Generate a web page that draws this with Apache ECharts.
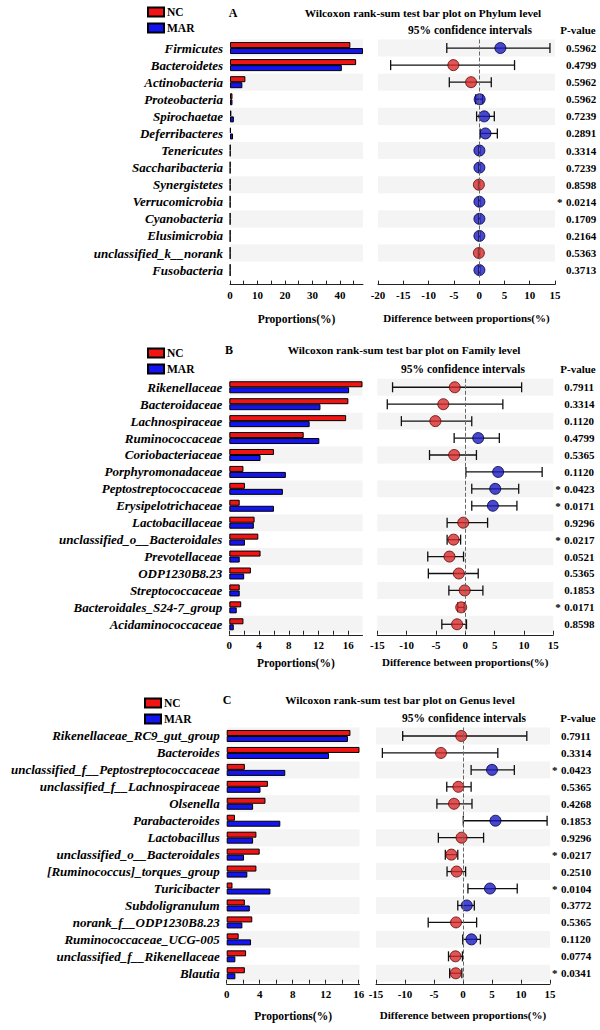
<!DOCTYPE html>
<html>
<head>
<meta charset="utf-8">
<script src="https://cdn.jsdelivr.net/npm/echarts@6/dist/echarts.min.js"></script>
<style>
  html, body { margin: 0; padding: 0; background: #fff; }
  #chart { width: 600px; height: 1030px; }
</style>
</head>
<body>
<div id="chart"></div>
<script>
// ---- data: Phylum level (A) ----
const phylumNames = ['Firmicutes', 'Bacteroidetes', 'Actinobacteria', 'Proteobacteria', 'Spirochaetae', 'Deferribacteres', 'Tenericutes', 'Saccharibacteria', 'Synergistetes', 'Verrucomicrobia', 'Cyanobacteria', 'Elusimicrobia', 'unclassified_k__norank', 'Fusobacteria'];
const phylumNC = [43.8, 45.9, 5.6, 0.9, 0.5, 0.3, 0.15, 0.1, 0.1, 0.1, 0.1, 0.1, 0.1, 0.1];
const phylumMAR = [48.4, 40.7, 4.5, 0.9, 1.4, 1.1, 0.15, 0.1, 0.1, 0.1, 0.1, 0.1, 0.1, 0.1];
const phylumDiff = [4.2, -5.1, -1.6, 0.1, 1.0, 1.25, 0.05, 0.05, -0.05, 0.05, 0.05, 0.05, -0.05, 0.05];
const phylumLow = [-6.4, -17.5, -5.9, -0.7, -0.5, 0.2, -0.1, -0.1, -0.15, -0.1, -0.1, -0.1, -0.15, -0.1];
const phylumHigh = [14.0, 7.0, 2.4, 0.7, 3.0, 3.6, 0.15, 0.15, 0.1, 0.15, 0.15, 0.15, 0.1, 0.15];
const phylumP = [0.5962, 0.4799, 0.5962, 0.5962, 0.7239, 0.2891, 0.3314, 0.7239, 0.8598, 0.0214, 0.1709, 0.2164, 0.5363, 0.3713];

// ---- data: Family level (B) ----
const familyNames = ['Rikenellaceae', 'Bacteroidaceae', 'Lachnospiraceae', 'Ruminococcaceae', 'Coriobacteriaceae', 'Porphyromonadaceae', 'Peptostreptococcaceae', 'Erysipelotrichaceae', 'Lactobacillaceae', 'unclassified_o__Bacteroidales', 'Prevotellaceae', 'ODP1230B8.23', 'Streptococcaceae', 'Bacteroidales_S24-7_group', 'Acidaminococcaceae'];
const familyNC = [17.9, 16.0, 15.7, 10.0, 6.0, 1.9, 2.1, 1.4, 3.4, 3.9, 4.2, 2.9, 1.4, 1.6, 1.9];
const familyMAR = [16.1, 12.25, 10.8, 12.1, 4.2, 7.6, 7.2, 6.0, 3.3, 2.1, 1.4, 2.0, 1.4, 1.0, 0.6];
const familyDiff = [-1.8, -3.75, -5.1, 2.2, -1.9, 5.6, 5.1, 4.7, -0.35, -2.0, -2.7, -1.1, -0.1, -0.7, -1.4];
const familyLow = [-12.4, -13.3, -10.9, -1.9, -6.1, 0.1, 1.1, 1.1, -3.1, -3.1, -6.4, -6.3, -2.8, -1.3, -4.0];
const familyHigh = [9.6, 6.4, 1.1, 5.8, 1.9, 13.1, 9.1, 8.8, 3.8, -0.8, -0.3, 2.2, 3.0, -0.2, 0.2];
const familyP = [0.7911, 0.3314, 0.1120, 0.4799, 0.5365, 0.1120, 0.0423, 0.0171, 0.9296, 0.0217, 0.0521, 0.5365, 0.1853, 0.0171, 0.8598];

// ---- data: Genus level (C) ----
const genusNames = ['Rikenellaceae_RC9_gut_group', 'Bacteroides', 'unclassified_f__Peptostreptococcaceae', 'unclassified_f__Lachnospiraceae', 'Olsenella', 'Parabacteroides', 'Lactobacillus', 'unclassified_o__Bacteroidales', '[Ruminococcus]_torques_group', 'Turicibacter', 'Subdoligranulum', 'norank_f__ODP1230B8.23', 'Ruminococcaceae_UCG-005', 'unclassified_f__Rikenellaceae', 'Blautia'];
const genusNC = [15.0, 16.1, 2.2, 5.0, 4.7, 1.0, 3.6, 4.0, 3.6, 0.7, 2.2, 3.1, 1.45, 2.35, 2.2];
const genusMAR = [14.7, 12.4, 7.1, 4.1, 3.2, 6.5, 3.2, 2.1, 2.5, 5.3, 2.8, 1.9, 2.95, 1.05, 1.05];
const genusDiff = [-0.3, -3.8, 5.0, -0.8, -1.55, 5.6, -0.25, -2.0, -1.1, 4.65, 0.65, -1.2, 1.45, -1.3, -1.25];
const genusLow = [-10.4, -13.9, 1.4, -2.8, -4.5, 0.05, -4.25, -3.05, -2.75, 0.85, -0.9, -6.0, -0.05, -2.5, -2.3];
const genusHigh = [11.0, 6.0, 8.85, 1.4, 1.55, 14.5, 3.55, -0.9, 0.45, 9.35, 1.95, 2.35, 3.0, -0.1, -0.2];
const genusP = [0.7911, 0.3314, 0.0423, 0.5365, 0.4268, 0.1853, 0.9296, 0.0217, 0.2510, 0.0104, 0.3772, 0.5365, 0.1120, 0.0774, 0.0341];

const groupNames = ['NC', 'MAR'];
const levelTitles = ['Phylum', 'Family', 'Genus'];

const serif = '"Liberation Serif", "Times New Roman", serif';
const RED = '#f01414';
const BLUE = '#1414f0';

// layout of the three panels (pixels)
const panels = [
  { tag: 'A', names: phylumNames, nc: phylumNC, mar: phylumMAR, diff: phylumDiff, low: phylumLow, high: phylumHigh, p: phylumP,
    top: 39.5, rowH: 17.08, barL: 230, barR: 363, ciL: 378, ciR: 555, off: 6, nameGap: 28,
    barStep: 5, barLabelStep: 10, ciMin: -20, legendX: 147, legendY: 6, tagX: 233, titleX: 423, headY: 13, subY: 30, ciTitleX: 470 },
  { tag: 'B', names: familyNames, nc: familyNC, mar: familyMAR, diff: familyDiff, low: familyLow, high: familyHigh, p: familyP,
    top: 378.8, rowH: 16.93, barL: 229.3, barR: 362.5, ciL: 377.3, ciR: 553.3, off: 2, nameGap: 22,
    barStep: 2, barLabelStep: 4, ciMin: -15, legendX: 147, legendY: 347, tagX: 229, titleX: 404, headY: 350, subY: 369, ciTitleX: 463 },
  { tag: 'C', names: genusNames, nc: genusNC, mar: genusMAR, diff: genusDiff, low: genusLow, high: genusHigh, p: genusP,
    top: 727.5, rowH: 16.95, barL: 226.7, barR: 359.5, ciL: 376, ciR: 550, off: 2, nameGap: 26,
    barStep: 2, barLabelStep: 4, ciMin: -15, legendX: 144, legendY: 697, tagX: 227, titleX: 400, headY: 700, subY: 718, ciTitleX: 464 }
];

const chart = echarts.init(document.getElementById('chart'), null, { renderer: 'svg' });

const grid = [], xAxis = [], yAxis = [], series = [], legend = [], graphic = [];
const bandColors = ['#f4f4f4', 'rgba(255,255,255,0)'];
const boldText = { color: '#000', fontFamily: serif, fontWeight: 'bold', fontSize: 11 };

function text(x, y, str, size) {
  graphic.push({
    type: 'text', x: x, y: y,
    style: { text: str, fill: '#000', font: 'bold ' + size + 'px ' + serif, align: 'center', verticalAlign: 'middle', textAlign: 'center', textVerticalAlign: 'middle' }
  });
}

function errorBar(params, api) {
  const yi = api.value(2);
  const a = api.coord([api.value(0), yi]);
  const b = api.coord([api.value(1), yi]);
  const h = 5;
  const st = { stroke: '#111', lineWidth: 1.3 };
  return {
    type: 'group',
    children: [
      { type: 'line', shape: { x1: a[0], y1: a[1], x2: b[0], y2: b[1] }, style: st },
      { type: 'line', shape: { x1: a[0], y1: a[1] - h, x2: a[0], y2: a[1] + h }, style: st },
      { type: 'line', shape: { x1: b[0], y1: b[1] - h, x2: b[0], y2: b[1] + h }, style: st }
    ]
  };
}

panels.forEach((pn, k) => {
  const h = pn.names.length * pn.rowH;
  grid.push({ left: pn.barL, width: pn.barR - pn.barL, top: pn.top, height: h });
  grid.push({ left: pn.ciL, width: pn.ciR - pn.ciL, top: pn.top, height: h });

  // proportions axis
  xAxis.push({
    type: 'value', gridIndex: 2 * k, min: 0, max: 'dataMax', interval: pn.barStep, offset: pn.off,
    name: 'Proportions(%)', nameLocation: 'middle', nameGap: pn.nameGap,
    nameTextStyle: { color: '#000', fontFamily: serif, fontWeight: 'bold', fontSize: 11.5 },
    axisLine: { show: true, lineStyle: { color: '#222', width: 1 } },
    axisTick: { show: true, inside: true, length: 4, lineStyle: { color: '#222' } },
    axisLabel: Object.assign({ margin: 5, showMaxLabel: false,
      formatter: v => (Math.abs(v % pn.barLabelStep) < 1e-6 ? String(v) : '') }, boldText),
    splitLine: { show: false }
  });
  // difference axis
  xAxis.push({
    type: 'value', gridIndex: 2 * k + 1, min: pn.ciMin, max: 15, interval: 5, offset: pn.off,
    name: 'Difference between proportions(%)', nameLocation: 'middle', nameGap: pn.nameGap,
    nameTextStyle: { color: '#000', fontFamily: serif, fontWeight: 'bold', fontSize: 11 },
    axisLine: { show: true, lineStyle: { color: '#222', width: 1 } },
    axisTick: { show: true, inside: true, length: 4, lineStyle: { color: '#222' } },
    axisLabel: Object.assign({ margin: 5 }, boldText),
    splitLine: { show: false }
  });

  yAxis.push({
    type: 'category', gridIndex: 2 * k, data: pn.names, inverse: true,
    axisLine: { show: false }, axisTick: { show: false },
    axisLabel: { color: '#000', fontFamily: serif, fontWeight: 'bold', fontStyle: 'italic', fontSize: 13, margin: 7 },
    splitArea: { show: true, areaStyle: { color: bandColors } }
  });
  yAxis.push({
    type: 'category', gridIndex: 2 * k + 1, data: pn.names, inverse: true,
    axisLine: { show: false }, axisTick: { show: false }, axisLabel: { show: false },
    splitArea: { show: true, areaStyle: { color: bandColors } }
  });
  // p-values on the right
  yAxis.push({
    type: 'category', gridIndex: 2 * k + 1, data: pn.names, inverse: true, position: 'right',
    axisLine: { show: false }, axisTick: { show: false },
    axisLabel: {
      margin: 2, align: 'left',
      formatter: (v, i) => (pn.p[i] < 0.05 ? '{s|*}' : '{s| }') + '{p|' + pn.p[i].toFixed(4) + '}',
      rich: {
        s: { width: 9, fontFamily: serif, fontWeight: 'bold', fontSize: 11, color: '#000' },
        p: { fontFamily: serif, fontWeight: 'bold', fontSize: 11, color: '#000' }
      }
    }
  });

  [pn.nc, pn.mar].forEach((vals, g) => {
    series.push({
      type: 'bar', name: groupNames[g], xAxisIndex: 2 * k, yAxisIndex: 3 * k,
      data: vals, barWidth: 6, barGap: '0%',
      itemStyle: { color: g === 0 ? RED : BLUE, borderColor: '#000', borderWidth: 1 }
    });
  });

  series.push({
    type: 'custom', xAxisIndex: 2 * k + 1, yAxisIndex: 3 * k + 1, z: 3,
    renderItem: errorBar, encode: { x: [0, 1], y: 2 },
    data: pn.names.map((n, i) => [pn.low[i], pn.high[i], n])
  });
  series.push({
    type: 'scatter', xAxisIndex: 2 * k + 1, yAxisIndex: 3 * k + 1, z: 4,
    symbolSize: 11,
    data: pn.names.map((n, i) => ({
      value: [pn.diff[i], n],
      itemStyle: pn.diff[i] >= 0
        ? { color: '#1c1cc0', borderColor: '#00003a', borderWidth: 1 }
        : { color: '#d82a2a', borderColor: '#5a0606', borderWidth: 1 }
    })),
    markLine: {
      silent: true, symbol: 'none', label: { show: false },
      lineStyle: { color: '#666', type: 'dashed', width: 1 },
      data: [{ xAxis: 0 }]
    }
  });

  legend.push({
    data: groupNames, orient: 'vertical', left: pn.legendX, top: pn.legendY, padding: 0,
    itemWidth: 16, itemHeight: 9, itemGap: 4, icon: 'rect', selectedMode: false,
    textStyle: { color: '#000', fontFamily: serif, fontWeight: 'bold', fontSize: 11.5, padding: [0, 0, 0, -2] }
  });

  text(pn.tagX, pn.headY, pn.tag, 12);
  text(pn.titleX, pn.headY, 'Wilcoxon rank-sum test bar plot on ' + levelTitles[k] + ' level', 11.3);
  text(pn.ciTitleX, pn.subY, '95% confidence intervals', 11.5);
  text(578, pn.subY, 'P-value', 11);
});

chart.setOption({
  animation: false,
  backgroundColor: '#fff',
  grid: grid,
  xAxis: xAxis,
  yAxis: yAxis,
  legend: legend,
  graphic: graphic,
  series: series
});
</script>
</body>
</html>
